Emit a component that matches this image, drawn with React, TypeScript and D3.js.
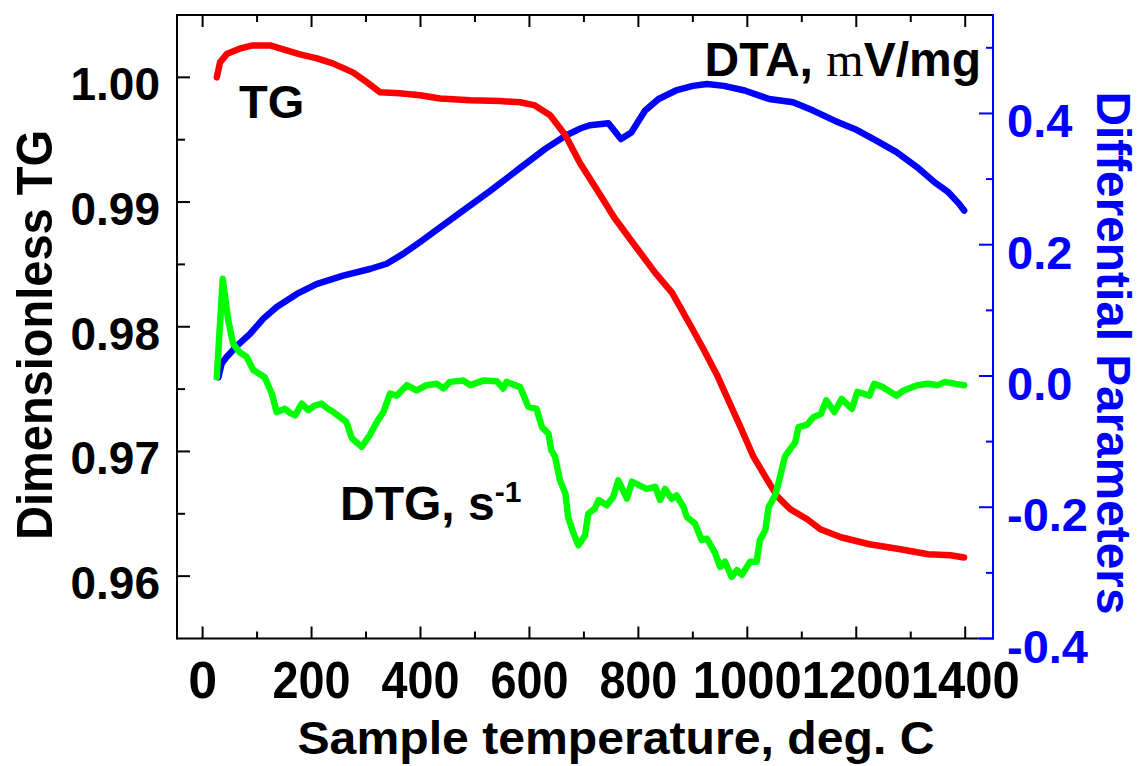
import React from "react";
import * as d3 from "d3";

// ---- Data ----
const tgT = [26, 32, 45, 68, 92, 124, 148, 179, 210, 239, 276, 302, 326, 362, 399, 436, 491, 546, 583, 610, 638, 666, 693, 730, 755, 786, 831, 862, 900, 922, 944, 963, 987, 1011, 1036, 1055, 1079, 1110, 1134, 1172, 1224, 1281, 1332, 1373, 1398];
const tgV = [1.0, 1.0012, 1.0019, 1.0023, 1.00256, 1.00256, 1.00224, 1.00184, 1.00152, 1.00112, 1.0004, 0.9996, 0.9988, 0.99872, 0.99856, 0.9983, 0.99816, 0.9981, 0.998, 0.99775, 0.99696, 0.99536, 0.99312, 0.99056, 0.9888, 0.98696, 0.98432, 0.98272, 0.97976, 0.978, 0.97616, 0.97432, 0.972, 0.9696, 0.96776, 0.9664, 0.96536, 0.96456, 0.96376, 0.96312, 0.96256, 0.96216, 0.96176, 0.96168, 0.9615];

const dtaT = [29, 35, 44, 62, 87, 111, 136, 173, 209, 258, 307, 338, 368, 399, 424, 473, 528, 583, 629, 666, 693, 711, 745, 768, 787, 812, 837, 869, 900, 926, 957, 995, 1040, 1084, 1122, 1160, 1198, 1236, 1274, 1312, 1344, 1369, 1388, 1398];
const dtaV = [-0.002, 0.019, 0.029, 0.045, 0.064, 0.087, 0.105, 0.125, 0.14, 0.153, 0.163, 0.171, 0.186, 0.204, 0.219, 0.249, 0.282, 0.317, 0.346, 0.366, 0.377, 0.382, 0.385, 0.361, 0.371, 0.404, 0.422, 0.435, 0.442, 0.445, 0.442, 0.435, 0.422, 0.417, 0.404, 0.389, 0.376, 0.359, 0.341, 0.318, 0.295, 0.28, 0.263, 0.252];

const dtgT = [26, 37, 47, 56, 68, 81, 93, 114, 127, 136, 151, 160, 170, 182, 194, 206, 218, 230, 240, 264, 274, 292, 307, 320, 332, 344, 356, 375, 393, 411, 430, 442, 454, 479, 491, 515, 540, 552, 558, 583, 598, 613, 623, 635, 640, 647, 656, 666, 671, 681, 690, 702, 708, 720, 727, 742, 754, 763, 779, 788, 803, 815, 831, 840, 849, 861, 870, 883, 889, 904, 916, 926, 941, 950, 959, 971, 981, 990, 1005, 1017, 1023, 1033, 1039, 1051, 1060, 1069, 1079, 1088, 1094, 1110, 1121, 1135, 1145, 1160, 1173, 1192, 1202, 1224, 1233, 1249, 1274, 1287, 1312, 1331, 1350, 1363, 1382, 1398];
const dtgV = [-0.002, 0.148, 0.085, 0.049, 0.036, 0.029, 0.009, -0.002, -0.027, -0.055, -0.05, -0.056, -0.06, -0.042, -0.052, -0.045, -0.042, -0.05, -0.055, -0.07, -0.095, -0.108, -0.09, -0.07, -0.055, -0.027, -0.03, -0.014, -0.022, -0.014, -0.012, -0.019, -0.009, -0.007, -0.014, -0.007, -0.008, -0.019, -0.009, -0.017, -0.047, -0.05, -0.078, -0.088, -0.113, -0.123, -0.159, -0.179, -0.215, -0.24, -0.258, -0.243, -0.21, -0.202, -0.189, -0.197, -0.184, -0.159, -0.187, -0.161, -0.167, -0.172, -0.169, -0.189, -0.172, -0.187, -0.182, -0.2, -0.215, -0.225, -0.25, -0.248, -0.27, -0.291, -0.283, -0.306, -0.296, -0.303, -0.283, -0.283, -0.25, -0.235, -0.2, -0.182, -0.154, -0.123, -0.111, -0.101, -0.078, -0.074, -0.063, -0.058, -0.037, -0.055, -0.035, -0.05, -0.024, -0.03, -0.012, -0.017, -0.03, -0.022, -0.014, -0.012, -0.014, -0.009, -0.012, -0.014];

const xMajor = [0, 200, 400, 600, 800, 1000, 1200, 1400];
const xMinor = [100, 300, 500, 700, 900, 1100, 1300];
const yLMajor = [0.96, 0.97, 0.98, 0.99, 1.0];
const yLMinor = [0.965, 0.975, 0.985, 0.995];
const yRMajor = [-0.4, -0.2, 0.0, 0.2, 0.4];
const yRMinor = [-0.3, -0.1, 0.1, 0.3, 0.5];

const BLUE = "#0000ff";
const RED = "#ff0000";
const GREEN = "#00ff00";
const FONT = "'Liberation Sans', Arial, sans-serif";

export default function App() {
  const L = 177, R = 993, T = 15, B = 638.5;
  const x = d3.scaleLinear().domain([-47, 1451]).range([L, R]);
  const yL = d3.scaleLinear().domain([0.955, 1.005]).range([B, T]);
  const yR = d3.scaleLinear().domain([-0.4, 0.55]).range([B, T]);

  const mk = (ts: number[], vs: number[], ys: d3.ScaleLinear<number, number>) =>
    d3.line<number>().x((_, i) => x(ts[i])).y((v) => ys(v))(vs) || "";

  const fmtR = (v: number) => (v < 0 ? "-" : "") + Math.abs(v).toFixed(1);
  const xLen = (v: number) => {
    const n = String(v).length;
    return n === 1 ? undefined : n === 3 ? 78 : 109;
  };

  return (
    <svg width={1140} height={766} style={{ position: "absolute", left: 0, top: 0, background: "#fff" }} fontFamily={FONT} fontWeight="bold">
      {/* curves */}
      <path d={mk(dtaT, dtaV, yR)} fill="none" stroke={BLUE} strokeWidth={6.5} strokeLinejoin="round" strokeLinecap="round" />
      <path d={mk(tgT, tgV, yL)} fill="none" stroke={RED} strokeWidth={6.5} strokeLinejoin="round" strokeLinecap="round" />
      <path d={mk(dtgT, dtgV, yR)} fill="none" stroke={GREEN} strokeWidth={6.5} strokeLinejoin="round" strokeLinecap="round" />

      {/* frame */}
      <line x1={L} y1={T} x2={R} y2={T} stroke="#000" strokeWidth={2} />
      <line x1={L} y1={B} x2={R - 15} y2={B} stroke="#000" strokeWidth={2} />
      <line x1={R - 15} y1={B} x2={R} y2={B} stroke={BLUE} strokeWidth={2} />
      <line x1={L} y1={T - 1} x2={L} y2={B + 1} stroke="#000" strokeWidth={2} />
      <line x1={R} y1={T - 1} x2={R} y2={B + 1} stroke={BLUE} strokeWidth={2} />

      {/* x ticks */}
      {xMajor.map((v) => (
        <g key={"xM" + v}>
          <line x1={x(v)} x2={x(v)} y1={B} y2={B - 12} stroke="#000" strokeWidth={2} />
          <line x1={x(v)} x2={x(v)} y1={T} y2={T + 12} stroke="#000" strokeWidth={2} />
          <text x={x(v)} y={698} textAnchor="middle" fontSize={52} textLength={xLen(v)} lengthAdjust="spacingAndGlyphs">{v}</text>
        </g>
      ))}
      {xMinor.map((v) => (
        <g key={"xm" + v}>
          <line x1={x(v)} x2={x(v)} y1={B} y2={B - 7} stroke="#000" strokeWidth={2} />
          <line x1={x(v)} x2={x(v)} y1={T} y2={T + 7} stroke="#000" strokeWidth={2} />
        </g>
      ))}

      {/* left ticks */}
      {yLMajor.map((v) => (
        <g key={"yL" + v}>
          <line x1={L} x2={L + 13} y1={yL(v)} y2={yL(v)} stroke="#000" strokeWidth={2} />
          <text x={160} y={yL(v) + 23} textAnchor="end" fontSize={46}>{v.toFixed(2)}</text>
        </g>
      ))}
      {yLMinor.map((v) => (
        <line key={"yl" + v} x1={L} x2={L + 8} y1={yL(v)} y2={yL(v)} stroke="#000" strokeWidth={2} />
      ))}

      {/* right ticks */}
      {yRMajor.map((v) => (
        <g key={"yR" + v}>
          <line x1={R} x2={R - 14} y1={yR(v)} y2={yR(v)} stroke={BLUE} strokeWidth={2} />
          <text x={1007} y={yR(v) + 24} textAnchor="start" fontSize={47} fill={BLUE}>{fmtR(v)}</text>
        </g>
      ))}
      {yRMinor.map((v) => (
        <line key={"yr" + v} x1={R} x2={R - 7} y1={yR(v)} y2={yR(v)} stroke={BLUE} strokeWidth={2} />
      ))}

      {/* axis titles */}
      <text x={616} y={754} textAnchor="middle" fontSize={47} textLength={637} lengthAdjust="spacingAndGlyphs">Sample temperature, deg. C</text>
      <text transform="translate(52,335) rotate(-90)" textAnchor="middle" fontSize={50} textLength={410} lengthAdjust="spacingAndGlyphs">Dimensionless TG</text>
      <text transform="translate(1097,353) rotate(90)" textAnchor="middle" fontSize={48} fill={BLUE} textLength={523} lengthAdjust="spacingAndGlyphs">Differential Parameters</text>

      {/* curve labels */}
      <text x={239} y={118} fontSize={47}>TG</text>
      <text x={981} y={76} textAnchor="end" fontSize={48}>
        DTA, <tspan fontFamily="'Liberation Serif', 'Times New Roman', serif" fontWeight="normal">m</tspan>V/mg
      </text>
      <text x={340} y={520} fontSize={48}>
        DTG, s<tspan fontSize={30} dy={-18}>-1</tspan>
      </text>
    </svg>
  );
}
